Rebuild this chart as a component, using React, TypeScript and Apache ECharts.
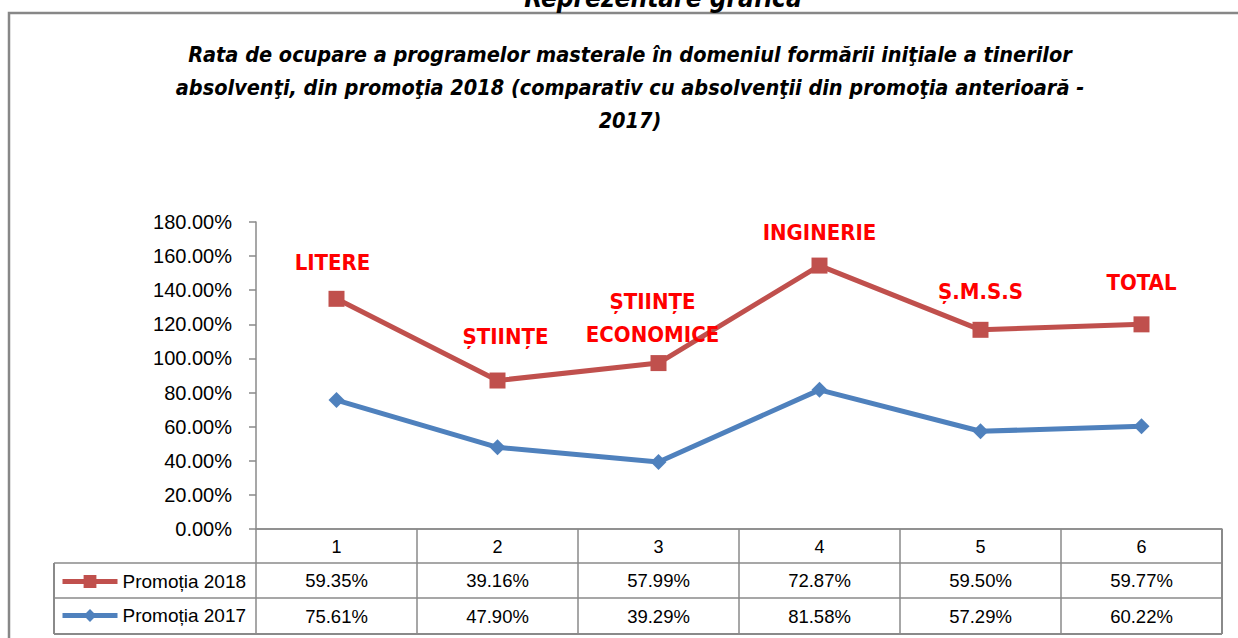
import React, { useEffect, useRef } from "react";
import * as echarts from "echarts";

const categories = ["1", "2", "3", "4", "5", "6"];
const domainLabels = ["LITERE", "ȘTIINȚE", "ȘTIINȚE\nECONOMICE", "INGINERIE", "Ș.M.S.S", "TOTAL"];
const promotia2018 = [59.35, 39.16, 57.99, 72.87, 59.5, 59.77];
const promotia2017 = [75.61, 47.9, 39.29, 81.58, 57.29, 60.22];
const seriesNames = ["Promoția 2018", "Promoția 2017"];
const yTicks = { min: 0, max: 180, interval: 20 };

const titleText =
  "Rata de ocupare a programelor masterale în domeniul formării iniţiale a tinerilor\nabsolvenţi, din promoţia 2018 (comparativ cu absolvenţii din promoţia anterioară -\n2017)";
const headerText = "Reprezentare grafică";

// layout (pixels)
const G = { left: 256, top: 222, right: 1222, bottom: 529 };
const rowY = [529, 563, 598, 634];
const tableLeft = 54;
const labelPlace = [
  { distance: 12, offset: [-4, 0] },
  { distance: 20, offset: [8, 0] },
  { distance: 4, offset: [-6, 0] },
  { distance: 9, offset: [0, 0] },
  { distance: 14, offset: [0, 0] },
  { distance: 17, offset: [0, 0] },
];

const RED = "#C0504D";
const BLUE = "#4F81BD";
const GREY = "#8a8a8a";
const NARROW = "'Liberation Sans Narrow', 'DejaVu Sans Condensed', sans-serif";
const REG = "'Liberation Sans', Arial, sans-serif";

export default function App() {
  const ref = useRef<HTMLDivElement>(null);
  useEffect(() => {
    if (!ref.current) return;
    const chart = echarts.init(ref.current, undefined, { renderer: "svg" });
    const n = categories.length;
    const cw = (G.right - G.left) / n;
    const graphics: any[] = [];
    graphics.push({
      type: "polyline",
      shape: { points: [[9, 640], [9, 13], [1240, 13]] },
      style: { stroke: "#878787", lineWidth: 2.5, fill: null },
      silent: true,
    });
    graphics.push({
      type: "text",
      x: 663,
      y: 11,
      style: {
        text: headerText,
        font: `italic bold 26px ${NARROW}`,
        fill: "#000",
        align: "center",
        verticalAlign: "bottom",
      },
    });
    graphics.push({
      type: "line",
      shape: { x1: G.left, y1: rowY[0], x2: G.right, y2: rowY[0] },
      style: { stroke: GREY, lineWidth: 1.5 },
    });
    for (let r = 1; r < rowY.length; r++) {
      graphics.push({
        type: "line",
        shape: { x1: tableLeft, y1: rowY[r], x2: G.right, y2: rowY[r] },
        style: { stroke: GREY, lineWidth: r === rowY.length - 1 ? 2 : 1.5 },
      });
    }
    for (let i = 0; i <= n; i++) {
      const x = G.left + i * cw;
      graphics.push({
        type: "line",
        shape: { x1: x, y1: rowY[0], x2: x, y2: rowY[3] },
        style: { stroke: GREY, lineWidth: i === n ? 2 : 1.5 },
      });
    }
    graphics.push({
      type: "line",
      shape: { x1: tableLeft, y1: rowY[1], x2: tableLeft, y2: rowY[3] },
      style: { stroke: GREY, lineWidth: 2 },
    });
    const rows = [promotia2018, promotia2017];
    rows.forEach((vals, r) => {
      vals.forEach((v, i) => {
        graphics.push({
          type: "text",
          x: G.left + (i + 0.5) * cw,
          y: (rowY[r + 1] + rowY[r + 2]) / 2,
          style: {
            text: v.toFixed(2) + "%",
            font: `18.5px ${REG}`,
            fill: "#000",
            align: "center",
            verticalAlign: "middle",
          },
        });
      });
    });

    chart.setOption({
      animation: false,
      backgroundColor: "#fff",
      title: {
        text: titleText,
        left: 625,
        top: 33,
        textAlign: "center",
        textStyle: {
          fontFamily: NARROW,
          fontStyle: "italic",
          fontWeight: "bold",
          fontSize: 21.5,
          lineHeight: 33,
          color: "#000",
        },
      },
      legend: {
        data: seriesNames,
        orient: "vertical",
        left: 60,
        top: 572,
        padding: 0,
        itemWidth: 55,
        itemHeight: 16,
        itemGap: 15,
        lineStyle: { width: 5 },
        textStyle: { fontFamily: REG, fontSize: 19, color: "#000" },
      },
      grid: { left: G.left, top: G.top, width: G.right - G.left, height: G.bottom - G.top, containLabel: false },
      xAxis: {
        type: "category",
        data: categories,
        boundaryGap: true,
        axisLine: { lineStyle: { color: GREY, width: 1.5 } },
        axisTick: { show: false },
        axisLabel: { color: "#000", fontFamily: REG, fontSize: 18, margin: 9 },
      },
      yAxis: {
        type: "value",
        min: yTicks.min,
        max: yTicks.max,
        interval: yTicks.interval,
        axisLine: { show: true, lineStyle: { color: GREY, width: 1.5 } },
        axisTick: { show: true, length: 7, lineStyle: { color: GREY, width: 1.5 } },
        splitLine: { show: false },
        axisLabel: {
          color: "#000",
          fontFamily: REG,
          fontSize: 20,
          margin: 24,
          formatter: (v: number) => v.toFixed(2) + "%",
        },
      },
      series: [
        {
          name: seriesNames[1],
          type: "line",
          stack: "total",
          data: promotia2017,
          symbol: "diamond",
          symbolSize: 16,
          lineStyle: { color: BLUE, width: 5 },
          itemStyle: { color: BLUE },
          z: 2,
        },
        {
          name: seriesNames[0],
          type: "line",
          stack: "total",
          data: promotia2018.map((v, i) => ({
            value: v,
            label: {
              show: true,
              position: "top",
              distance: labelPlace[i].distance,
              offset: labelPlace[i].offset,
              formatter: domainLabels[i],
            },
          })),
          symbol: "rect",
          symbolSize: 16,
          lineStyle: { color: RED, width: 5 },
          itemStyle: { color: RED },
          label: {
            show: true,
            color: "#FF0000",
            fontFamily: NARROW,
            fontWeight: "bold",
            fontSize: 22,
            lineHeight: 33,
            align: "center",
          },
          z: 3,
        },
      ],
      graphic: graphics,
    });
    return () => chart.dispose();
  }, []);
  return (
    <div
      ref={ref}
      style={{ position: "absolute", left: 0, top: 0, width: 1238, height: 638 }}
    />
  );
}
